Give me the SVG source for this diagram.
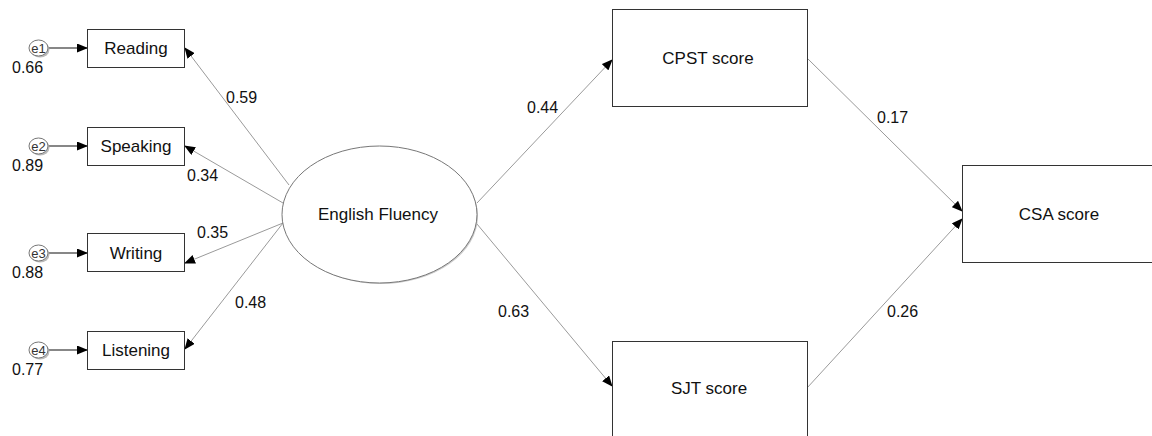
<svg xmlns="http://www.w3.org/2000/svg" width="1152" height="436" viewBox="0 0 1152 436">
<style>
.box{fill:#fff;stroke:#333;stroke-width:1}
.lbl{font-family:"Liberation Sans",Arial,sans-serif;font-size:17px;fill:#111;text-anchor:middle}
.num{font-family:"Liberation Sans",Arial,sans-serif;font-size:16px;fill:#111}
.err{font-family:"Liberation Sans",Arial,sans-serif;font-size:13px;fill:#333;text-anchor:middle}
.path{stroke:#9a9a9a;stroke-width:1;fill:none;marker-end:url(#ah)}
.epath{stroke:#111;stroke-width:1.2;fill:none;marker-end:url(#ah)}
.ec{fill:#fff;stroke:#777}
.es{fill:#bbb}
</style>
<defs>
<marker id="ah" markerUnits="userSpaceOnUse" markerWidth="11" markerHeight="9" refX="10" refY="4.5" orient="auto">
<path d="M0,0 L11,4.5 L0,9 z" fill="#000"/>
</marker>
</defs>
<rect width="1152" height="436" fill="#fff"/>
<g id="connectors">
<line class="path" x1="289" y1="185" x2="185" y2="48"/>
<line class="path" x1="283" y1="203" x2="185" y2="146"/>
<line class="path" x1="283" y1="223" x2="185" y2="263"/>
<line class="path" x1="283" y1="223" x2="185" y2="349"/>
<line class="path" x1="477" y1="203" x2="612" y2="60"/>
<line class="path" x1="477" y1="224" x2="612" y2="386"/>
<line class="path" x1="807" y1="58" x2="962" y2="211"/>
<line class="path" x1="807" y1="388" x2="962" y2="219"/>
<line class="epath" x1="48" y1="48" x2="87" y2="48"/>
<line class="epath" x1="48" y1="146" x2="87" y2="146"/>
<line class="epath" x1="48" y1="253" x2="87" y2="253"/>
<line class="epath" x1="48" y1="350" x2="87" y2="350"/>
</g>
<g id="e1"><ellipse class="es" cx="40" cy="49.5" rx="9.5" ry="8"/><ellipse class="ec" cx="38.5" cy="48" rx="9.5" ry="8"/><text class="err" x="38.5" y="52.5">e1</text><text class="num" x="12" y="73">0.66</text></g>
<g id="e2"><ellipse class="es" cx="40" cy="147.5" rx="9.5" ry="8"/><ellipse class="ec" cx="38.5" cy="146" rx="9.5" ry="8"/><text class="err" x="38.5" y="150.5">e2</text><text class="num" x="12" y="171">0.89</text></g>
<g id="e3"><ellipse class="es" cx="40" cy="254.5" rx="9.5" ry="8"/><ellipse class="ec" cx="38.5" cy="253" rx="9.5" ry="8"/><text class="err" x="38.5" y="257.5">e3</text><text class="num" x="12" y="278">0.88</text></g>
<g id="e4"><ellipse class="es" cx="40" cy="351.5" rx="9.5" ry="8"/><ellipse class="ec" cx="38.5" cy="350" rx="9.5" ry="8"/><text class="err" x="38.5" y="354.5">e4</text><text class="num" x="12" y="375">0.77</text></g>
<g id="reading"><rect class="box" x="87.5" y="29.5" width="97" height="38"/><text class="lbl" x="136" y="54">Reading</text></g>
<g id="speaking"><rect class="box" x="87.5" y="127.5" width="97" height="38"/><text class="lbl" x="136" y="152">Speaking</text></g>
<g id="writing"><rect class="box" x="87.5" y="233.5" width="97" height="38"/><text class="lbl" x="136" y="259">Writing</text></g>
<g id="listening"><rect class="box" x="87.5" y="331.5" width="97" height="38"/><text class="lbl" x="136" y="356">Listening</text></g>
<g id="english-fluency"><ellipse cx="381" cy="216" rx="97" ry="68" fill="#ccc"/><ellipse cx="379.5" cy="214.5" rx="97.5" ry="68.5" fill="#fff" stroke="#777"/><text class="lbl" x="378" y="220">English Fluency</text></g>
<g id="cpst"><rect class="box" x="612.5" y="9.5" width="195" height="97"/><text class="lbl" x="708" y="64">CPST score</text></g>
<g id="sjt"><rect class="box" x="612.5" y="341.5" width="195" height="100"/><text class="lbl" x="709" y="394">SJT score</text></g>
<g id="csa"><rect class="box" x="962.5" y="165.5" width="200" height="97"/><text class="lbl" x="1059" y="220">CSA score</text></g>
<g id="coefficients">
<text class="num" x="226" y="103">0.59</text>
<text class="num" x="187" y="181">0.34</text>
<text class="num" x="197" y="238">0.35</text>
<text class="num" x="235" y="308">0.48</text>
<text class="num" x="527" y="113">0.44</text>
<text class="num" x="498" y="317">0.63</text>
<text class="num" x="877" y="123">0.17</text>
<text class="num" x="887" y="317">0.26</text>
</g>
</svg>
